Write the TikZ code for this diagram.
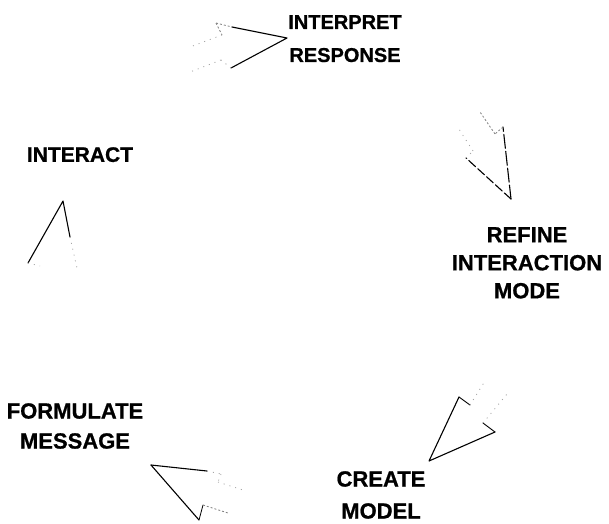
\documentclass[tikz,border=0pt]{standalone}
\usepackage{fontspec}
\setmainfont{Liberation Sans}[BoldFeatures={FakeBold=0.8}]
\begin{document}
\begin{tikzpicture}[x=1pt,y=-1pt,
  lbl/.style={inner sep=0pt, anchor=north, align=center},
  headedge/.style={draw=black, line width=1.1pt, line cap=round, line join=round},
  notchedge/.style={draw=black!50, line width=0.8pt, dash pattern=on 2pt off 2pt},
  tailedge/.style={draw=black!35, line width=0.8pt, dash pattern=on 1pt off 5pt},
]
\useasboundingbox[fill=white] (0,0) rectangle (609,523);

% labels
\node[lbl, font=\fontsize{20}{33}\selectfont\bfseries] (interpret) at (345,15) {INTERPRET\\RESPONSE};
\node[lbl, font=\fontsize{21}{30}\selectfont\bfseries] (interact) at (80,147) {INTERACT};
\node[lbl, font=\fontsize{22}{28}\selectfont\bfseries] (refine) at (527,227) {REFINE\\INTERACTION\\MODE};
\node[lbl, font=\fontsize{22}{30}\selectfont\bfseries] (formulate) at (75,403) {FORMULATE\\MESSAGE};
\node[lbl, font=\fontsize{22}{32}\selectfont\bfseries] (create) at (381,471) {CREATE\\MODEL};

% arrow 1 (towards INTERPRET RESPONSE)
\coordinate (t1) at (287,38);
\coordinate (ub1) at (216,23); \coordinate (un1) at (222,35); \coordinate (ut1) at (190,47);
\coordinate (lb1) at (231,68); \coordinate (ln1) at (221,60); \coordinate (lt1) at (190,72);
\coordinate (m1) at (232,27);
\draw[headedge] (m1) -- (t1) -- (lb1);
\draw[notchedge] (ub1) -- (m1);
\draw[notchedge] (ub1) -- (un1);
\draw[tailedge] (lb1) -- (ln1);
\draw[tailedge] (un1) -- (ut1);
\draw[tailedge] (ln1) -- (lt1);

% arrow 2 (towards REFINE INTERACTION MODE)
\coordinate (t2) at (511,199);
\coordinate (rb2) at (503,127); \coordinate (rn2) at (495,134); \coordinate (rt2) at (480,112);
\coordinate (lb2) at (466,158); \coordinate (ln2) at (473,151); \coordinate (lt2) at (457,126);
\draw[headedge, dash pattern=on 14pt off 3pt] (t2) -- (rb2);
\draw[headedge, dash pattern=on 9pt off 3pt] (t2) -- (lb2);
\draw[notchedge] (rb2) -- (rn2);
\draw[tailedge] (lb2) -- (ln2);
\draw[notchedge] (rn2) -- (rt2);
\draw[tailedge] (ln2) -- (lt2);

% arrow 3 (towards CREATE MODEL)
\coordinate (t3) at (429,461);
\coordinate (lb3) at (459,397); \coordinate (ln3) at (470,405); \coordinate (lt3) at (485,381);
\coordinate (rb3) at (495,432); \coordinate (rn3) at (483,423); \coordinate (rt3) at (507,394);
\draw[headedge] (lb3) -- (t3) -- (rb3);
\draw[headedge, line width=0.9pt] (lb3) -- (ln3);
\draw[headedge, line width=0.9pt] (rb3) -- (rn3);
\draw[tailedge] (ln3) -- (lt3);
\draw[tailedge] (rn3) -- (rt3);

% arrow 4 (towards FORMULATE MESSAGE)
\coordinate (t4) at (151,465);
\coordinate (ub4) at (221,474); \coordinate (un4) at (218,482); \coordinate (ut4) at (243,490);
\coordinate (lb4) at (199,520); \coordinate (ln4) at (203,505); \coordinate (lt4) at (228,513);
\coordinate (m4) at (207,471);
\draw[headedge] (t4) -- (m4);
\draw[tailedge] (m4) -- (ub4);
\draw[headedge] (t4) -- (lb4);
\draw[headedge, line width=0.8pt] (lb4) -- (ln4);
\draw[tailedge] (ub4) -- (un4);
\draw[notchedge] (ln4) -- (lt4);
\draw[tailedge] (un4) -- (ut4);

% arrow 5 (towards INTERACT)
\coordinate (t5) at (63,201);
\coordinate (lb5) at (28,263); \coordinate (ln5) at (40,266); \coordinate (lt5) at (40,292);
\coordinate (rb5) at (77,268); \coordinate (rn5) at (68,266); \coordinate (rt5) at (68,294);
\coordinate (m5) at (70,237);
\draw[headedge] (lb5) -- (t5) -- (m5);
\draw[tailedge] (m5) -- (rb5);
\draw[tailedge] (lb5) -- (ln5);
\end{tikzpicture}
\end{document}
